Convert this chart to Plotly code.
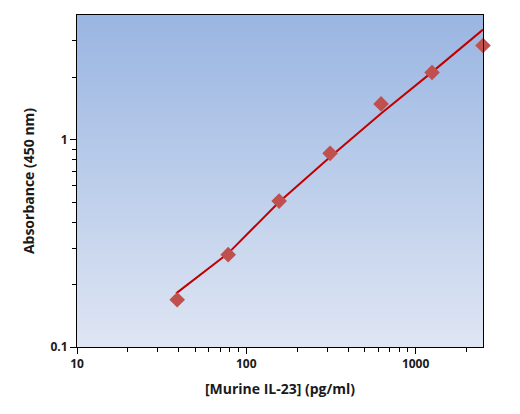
import numpy as np
import plotly.graph_objects as go

# Data
conc = [39.06, 78.13, 156.25, 312.5, 625, 1250, 2500]
absorbance = [0.169, 0.279, 0.506, 0.86, 1.49, 2.11, 2.85]

fit_x = [38.5, 78.13, 156.25, 312.5, 625, 1250, 2500]
fit_y = [0.1815, 0.283, 0.501, 0.826, 1.34, 2.12, 3.40]

x_ticks = [10, 100, 1000]
x_tick_text = ["10", "100", "1000"]
y_ticks = [0.1, 1]
y_tick_text = ["0.1", "1"]
x_minor = [20, 30, 40, 50, 60, 70, 80, 90, 200, 300, 400, 500, 600, 700, 800, 900, 2000]
y_minor = [0.2, 0.3, 0.4, 0.5, 0.6, 0.7, 0.8, 0.9, 2, 3]

fig = go.Figure()

# gradient background: stacked rects (no seams)
top = np.array([154, 182, 226])
bot = np.array([223, 230, 244])
n = 80
shapes = []
for i in range(n):
    t = i / (n - 1)
    c = top * (1 - t) + bot * t
    shapes.append(dict(type="rect", xref="x domain", yref="y domain",
                       x0=0, x1=1, y0=0, y1=1 - i / n,
                       fillcolor="rgb(%d,%d,%d)" % tuple(c.astype(int)),
                       line=dict(width=0), layer="below"))

fig.add_trace(go.Scatter(x=fit_x, y=fit_y, mode="lines",
                         line=dict(color="#C00000", width=2),
                         hoverinfo="skip", showlegend=False))
fig.add_trace(go.Scatter(x=conc, y=absorbance, mode="markers",
                         marker=dict(symbol="diamond", size=12, color="#C0504D",
                                     line=dict(width=0)),
                         showlegend=False, cliponaxis=False))

font = "Open Sans"
fig.update_layout(
    width=520, height=414,
    margin=dict(l=77, r=37, t=15, b=67),
    paper_bgcolor="white", plot_bgcolor="rgba(0,0,0,0)",
    shapes=shapes,
    font=dict(family=font, color="#1a1a1a"),
)
fig.update_xaxes(type="log", range=[1, np.log10(2500)],
                 tickvals=x_ticks, ticktext=x_tick_text,
                 tickfont=dict(size=12, family=font, weight="bold"),
                 ticks="outside", ticklen=6, tickcolor="black",
                 minor=dict(tickvals=x_minor, ticks="outside", ticklen=4, tickcolor="black"),
                 showline=True, linecolor="black", linewidth=1, mirror=True,
                 showgrid=False, zeroline=False,
                 title=dict(text="<b>[Murine IL-23] (pg/ml)</b>", font=dict(size=14, family=font), standoff=12))
fig.update_yaxes(type="log", range=[-1, np.log10(4)],
                 tickvals=y_ticks, ticktext=y_tick_text,
                 tickfont=dict(size=12, family=font, weight="bold"),
                 ticks="outside", ticklen=6, tickcolor="black",
                 minor=dict(tickvals=y_minor, ticks="outside", ticklen=4, tickcolor="black"),
                 showline=True, linecolor="black", linewidth=1, mirror=True,
                 showgrid=False, zeroline=False,
                 title=dict(text="<b>Absorbance (450 nm)</b>", font=dict(size=14, family=font), standoff=12))

fig.write_html("out.html", config={"displayModeBar": False},
               post_script="document.body.style.margin='0';")
